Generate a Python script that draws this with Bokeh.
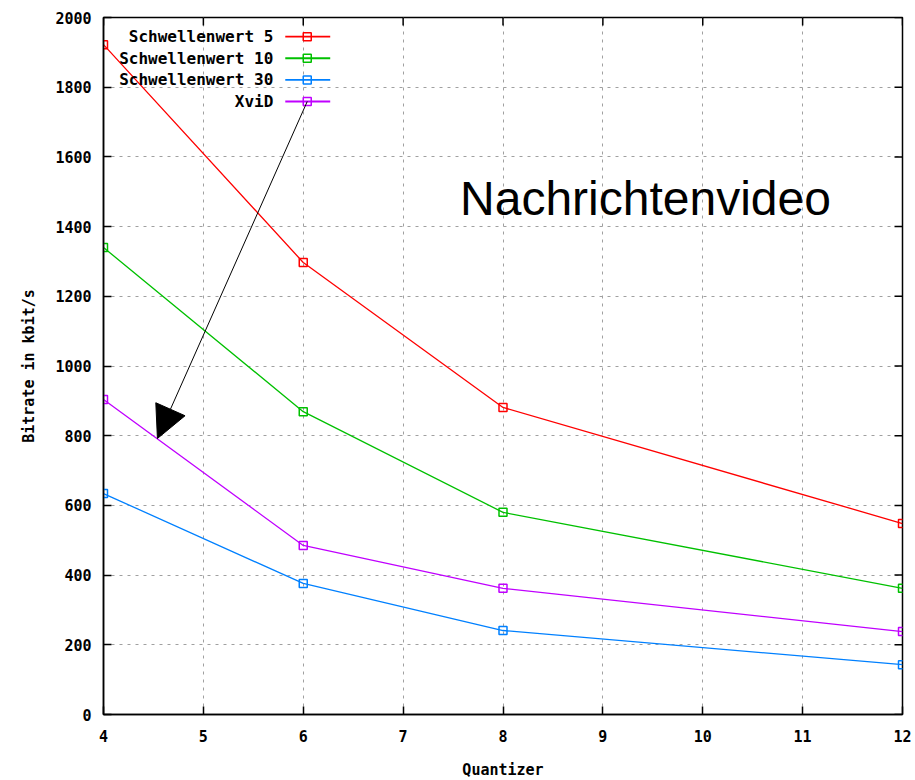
from bokeh.plotting import figure
from bokeh.models import Label, Arrow, NormalHead, FixedTicker, Range1d
from bokeh.embed import file_html
from bokeh.resources import INLINE

quantizer = [4, 6, 8, 12]
sw5 = [1922, 1297, 881, 548]
sw10 = [1340, 869, 580, 362]
sw30 = [634, 376, 241, 143]
xvid = [904, 485, 362, 238]

series_names = ["Schwellenwert 5", "Schwellenwert 10", "Schwellenwert 30", "XviD"]
series_values = [sw5, sw10, sw30, xvid]
series_colors = ["#ff0000", "#00c000", "#0080ff", "#c000ff"]

x_ticks = [4, 5, 6, 7, 8, 9, 10, 11, 12]
y_ticks = [0, 200, 400, 600, 800, 1000, 1200, 1400, 1600, 1800, 2000]

MONO = "DejaVu Sans Mono"
FS = "15px"
X0, X1, Y0, Y1 = 4, 12, 0, 2000

p = figure(width=915, height=780, frame_width=799, frame_height=697,
           min_border_left=103, min_border_top=17, min_border_right=13, min_border_bottom=66,
           x_range=Range1d(X0, X1), y_range=Range1d(Y0, Y1),
           output_backend="svg", toolbar_location=None,
           x_axis_label="Quantizer", y_axis_label="Bitrate in kbit/s")
p.background_fill_color = "white"
p.border_fill_color = "white"
p.outline_line_color = "black"
p.outline_line_width = 1.5

for ax, ticks in ((p.xaxis[0], x_ticks), (p.yaxis[0], y_ticks)):
    ax.ticker = FixedTicker(ticks=ticks)
    ax.major_tick_in = 8
    ax.major_tick_out = 0
    ax.minor_tick_in = 0
    ax.minor_tick_out = 0
    ax.axis_line_color = "black"
    ax.axis_line_width = 1.5
    ax.major_tick_line_color = "black"
    ax.major_tick_line_width = 1.5
    ax.major_label_text_font = MONO
    ax.major_label_text_font_style = "bold"
    ax.major_label_text_font_size = FS
    ax.major_label_text_color = "black"
    ax.axis_label_text_font = MONO
    ax.axis_label_text_font_style = "bold"
    ax.axis_label_text_font_size = FS
    ax.axis_label_text_color = "black"

p.xaxis[0].major_label_standoff = 15
p.xaxis[0].axis_label_standoff = 16
p.yaxis[0].major_label_standoff = 12
p.yaxis[0].axis_label_standoff = 14

# mirrored inward ticks on top and right edges
tick_dx = 8 * (X1 - X0) / 799
tick_dy = 8 * (Y1 - Y0) / 697
p.segment(x0=x_ticks, y0=[Y1] * len(x_ticks), x1=x_ticks, y1=[Y1 - tick_dy] * len(x_ticks),
          line_color="black", line_width=1.5)
p.segment(x0=[X1] * len(y_ticks), y0=y_ticks, x1=[X1 - tick_dx] * len(y_ticks), y1=y_ticks,
          line_color="black", line_width=1.5)

p.xgrid.ticker = FixedTicker(ticks=x_ticks[1:-1])
p.ygrid.ticker = FixedTicker(ticks=y_ticks[1:-1])
for g in (p.xgrid[0], p.ygrid[0]):
    g.grid_line_color = "#a0a0a0"
    g.grid_line_dash = "3 5"
    g.grid_line_width = 1

for name, vals, col in zip(series_names, series_values, series_colors):
    p.line(quantizer, vals, line_color=col, line_width=1.3)
    p.scatter(quantizer, vals, marker="square", size=8, fill_color=None,
              line_color=col, line_width=1.5)

# custom legend (labels right-aligned, sample line to the right)
leg_text_x = 5.70
leg_line_x0, leg_line_x1, leg_mark_x = 5.82, 6.27, 6.04
leg_y0, leg_dy = 1945, 62
for i, (name, col) in enumerate(zip(series_names, series_colors)):
    yy = leg_y0 - i * leg_dy
    p.add_layout(Label(x=leg_text_x, y=yy, text=name, text_align="right",
                       text_baseline="middle", text_font=MONO, text_font_style="bold",
                       text_font_size="16px", text_color="black"))
    p.line([leg_line_x0, leg_line_x1], [yy, yy], line_color=col, line_width=1.8)
    p.scatter([leg_mark_x], [yy], marker="square", size=8, fill_color=None,
              line_color=col, line_width=1.5)

# annotation arrow from legend to XviD curve
p.add_layout(Arrow(x_start=6.04, y_start=1759, x_end=4.54, y_end=792,
                   line_color="black", line_width=1,
                   end=NormalHead(size=32, fill_color="black", line_color="black")))

p.add_layout(Label(x=7.57, y=1481, text="Nachrichtenvideo", text_font="Liberation Sans",
                   text_font_size="48px", text_color="black", text_baseline="alphabetic"))

open("out.html", "w").write(file_html(p, INLINE))
